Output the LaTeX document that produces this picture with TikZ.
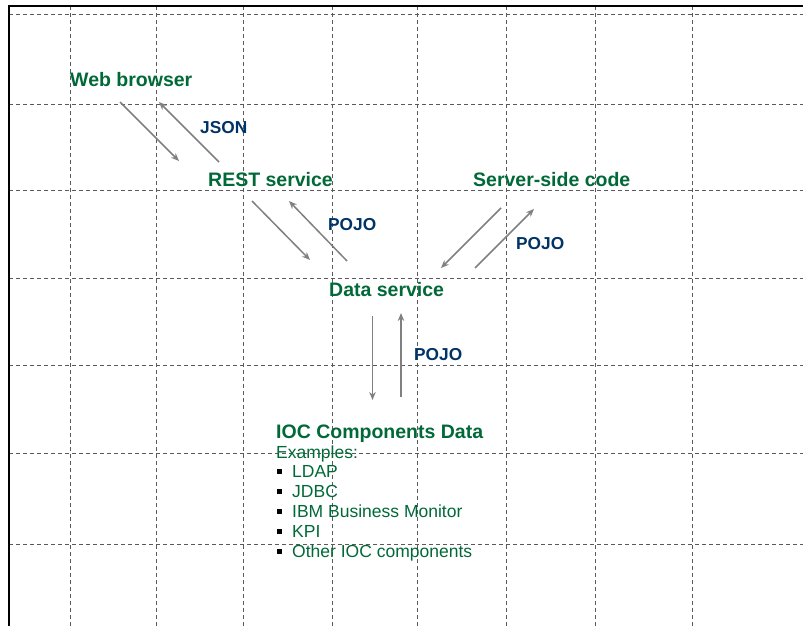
\documentclass[tikz,border=0pt]{standalone}
\usepackage{fontspec}
\setmainfont{Liberation Sans}
\usetikzlibrary{arrows.meta}
\definecolor{tgreen}{RGB}{0,105,55}
\definecolor{tblue}{RGB}{0,51,102}
\definecolor{gridc}{RGB}{90,90,90}
\definecolor{arrc}{RGB}{128,128,128}
\tikzset{
  gridline/.style={draw=gridc, line width=0.9pt, dash pattern=on 4pt off 3pt},
  frameline/.style={draw=black, line width=1.3pt},
  title/.style={anchor=base west, inner sep=0pt, text=tgreen, font=\fontsize{19.5}{23}\selectfont\bfseries},
  lbl/.style={anchor=base west, inner sep=0pt, text=tblue, font=\fontsize{17.3}{20}\selectfont\bfseries},
  item/.style={anchor=base west, inner sep=0pt, text=tgreen, font=\fontsize{17.5}{20}\selectfont},
  bul/.style={fill=black, inner sep=0pt, minimum size=4.6pt},
  flow/.style={draw=arrc, line width=1.5pt, -{Stealth[length=8pt,width=6.5pt]}}
}
\begin{document}
\begin{tikzpicture}[x=1pt,y=-1pt]
\useasboundingbox (0,0) rectangle (803,626);
% grid
\foreach \yy in {14,104,190,278,365,453,544} \draw[gridline] (9,\yy) -- (803,\yy);
\foreach \xx in {70,156,243,332,417,506,595,692} \draw[gridline] (\xx,6) -- (\xx,626);
% frame
\draw[frameline] (9,626) -- (9,6) -- (803,6);
% titles
\node[title] (web) at (70,86) {Web browser};
\node[title] (rest) at (208,186) {REST service};
\node[title] (server) at (473,186) {Server-side code};
\node[title] (data) at (329,296) {Data service};
\node[title] (ioc) at (276,438) {IOC Components Data};
% labels
\node[lbl] (json) at (200,133) {JSON};
\node[lbl] (pojoA) at (328,230) {POJO};
\node[lbl] (pojoB) at (516,249) {POJO};
\node[lbl] (pojoC) at (414,360) {POJO};
% list
\node[item] (ex) at (276,458) {Examples:};
\node[item] (i1) at (292,477) {LDAP};
\node[item] (i2) at (292,497) {JDBC};
\node[item] (i3) at (292,517) {IBM Business Monitor};
\node[item] (i4) at (292,537) {KPI};
\node[item] (i5) at (292,557) {Other IOC components};
\node[bul] (b1) at (279.5,471.5) {};
\node[bul] (b2) at (279.5,491.5) {};
\node[bul] (b3) at (279.5,511.5) {};
\node[bul] (b4) at (279.5,531.5) {};
\node[bul] (b5) at (279.5,551.5) {};
% arrow ends
\coordinate (wA) at (120,102); \coordinate (rA) at (179,161);
\coordinate (rB) at (219,162); \coordinate (wB) at (159,102);
\coordinate (rC) at (252,201); \coordinate (dC) at (310,260);
\coordinate (dD) at (347,261); \coordinate (rD) at (289,201);
\coordinate (sE) at (501,208); \coordinate (dE) at (441,268);
\coordinate (dF) at (475,268); \coordinate (sF) at (534,209);
\coordinate (dG) at (372.5,316); \coordinate (iG) at (372.5,400);
\coordinate (iH) at (401,397); \coordinate (dH) at (401,313);
\draw[flow] (wA) -- (rA);
\draw[flow] (rB) -- (wB);
\draw[flow] (rC) -- (dC);
\draw[flow] (dD) -- (rD);
\draw[flow] (sE) -- (dE);
\draw[flow] (dF) -- (sF);
\draw[flow] (dG) -- (iG);
\draw[flow] (iH) -- (dH);
\end{tikzpicture}
\end{document}
